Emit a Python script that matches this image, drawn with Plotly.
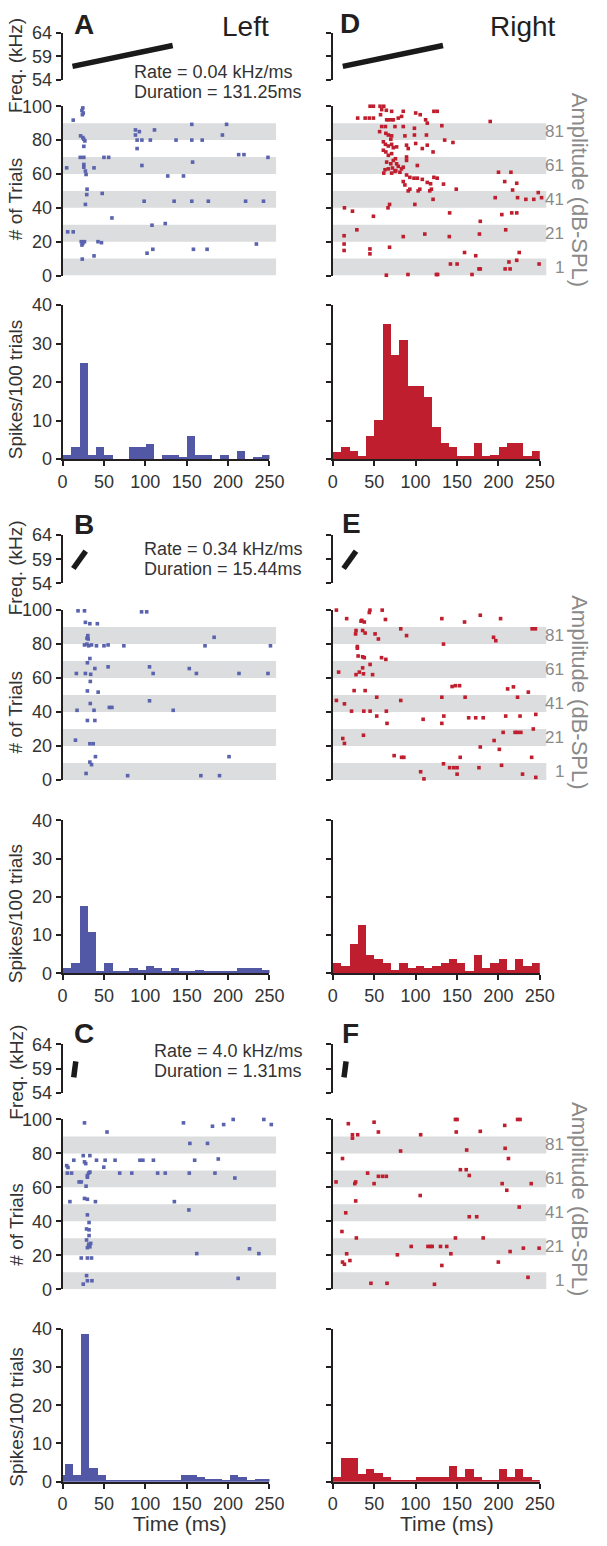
import plotly.graph_objects as go

W, H = 607, 1546

# ---------------- data ----------------
TIME_TICKS = [0, 50, 100, 150, 200, 250]
FREQ_TICKS = [54, 59, 64]
TRIAL_TICKS = [0, 20, 40, 60, 80, 100]
SPIKE_TICKS = [0, 10, 20, 30, 40]
BAND_STARTS = [0, 20, 40, 60, 80]
BAND_HEIGHT = 10
AMP_LABELS = ["1", "21", "41", "61", "81"]
AMP_TRIALS = [5, 25, 45, 65, 85]
RASTER_TMAX = 258
BIN_WIDTH = 10

CHIRP = {
    "slow": ([12, 133], [56.9, 61.3]),
    "mid": ([13, 28], [57.1, 60.7]),
    "fast": ([13.5, 16.0], [57.2, 60.5]),
}
RATE_TEXT = {
    "A": ("Rate = 0.04 kHz/ms", "Duration = 131.25ms"),
    "B": ("Rate = 0.34 kHz/ms", "Duration = 15.44ms"),
    "C": ("Rate = 4.0 kHz/ms", "Duration = 1.31ms"),
}

# spike raster (time ms, trial #)
A_SPIKES = [(12.9, 91.8), (24.5, 99), (23.4, 97.5), (25, 96), (24, 95), (21.8, 82.5), (24.5, 81.5),
            (25.7, 80.5), (27, 79.5), (25.7, 76.3), (21.4, 69.8), (25.7, 69.8), (5, 63.6), (25.7, 65.6),
            (25.7, 64), (27.6, 61.7), (28.4, 59.7), (38, 63.6), (50, 69.8), (55.7, 69.8), (88, 86),
            (92.7, 85), (88, 83), (90, 80), (95.8, 80), (90, 75), (95.8, 65), (106, 80), (111, 86),
            (127, 58.8), (137, 80), (146, 58.8), (156, 89.3), (156, 80), (157, 67), (168.6, 80), (193, 83),
            (198, 89.3), (212.6, 71.4), (219, 71.4), (248, 69.8), (29.6, 51), (29.2, 47.8), (47.9, 48.5),
            (27.6, 42), (98.5, 43.9), (134.7, 43.9), (156, 43.9), (176, 43.9), (221, 43.9), (242.6, 43.9),
            (59.6, 34), (6.2, 25.8), (12.9, 25.8), (108, 29.7), (124, 30.7), (22.6, 20), (24.5, 19),
            (26.5, 20), (23.4, 18), (42.8, 20), (47, 19.4), (109, 15.5), (102, 13.2), (158, 15.5),
            (174.5, 15.5), (234, 18.6), (23.8, 9.7), (38, 11.6)]
B_SPIKES = [(18.7, 99.6), (26.5, 99.6), (95.4, 99), (101.6, 99), (27.6, 92.8), (33, 92), (42, 92),
            (30.5, 85), (31, 83), (29.5, 83.5), (26.5, 79.5), (29.5, 80), (31.5, 79), (35, 79.5), (41, 79),
            (50, 79), (55, 79.5), (74, 79), (172, 79), (183, 84), (251, 79), (33, 71.5), (30, 69),
            (39, 65.6), (55, 66.6), (16.7, 62.7), (27.6, 62.7), (34, 62.2), (105, 66.6), (109.4, 62.7),
            (153, 65.6), (161.6, 62.7), (213, 62.7), (248, 62.7), (33.5, 58), (30, 52.4), (43, 51.7),
            (33.5, 45), (105, 46.6), (17.5, 41), (38, 41), (56.5, 42.7), (59.6, 42.7), (133.6, 41),
            (30, 35), (39, 35), (15.6, 23.4), (33, 21.3), (37, 21.3), (39.7, 13.7), (33, 10.5), (35, 9),
            (28.4, 3.8), (78.6, 2.5), (167, 2.5), (189.5, 2.5), (201, 13.7)]
C_SPIKES = [(26.5, 98), (53.7, 92.6), (146, 98), (181, 96), (194.5, 97), (206, 100), (243, 100), (252, 97),
            (153.7, 85.9), (175, 85.9), (25, 78.7), (33, 78.7), (13.6, 76), (26.5, 75), (28, 74), (41, 76),
            (51.4, 76), (63.4, 76), (93.4, 76), (97, 76), (109.7, 76), (159.5, 76), (188, 76.7), (5, 72.8),
            (6.6, 71.7), (49.8, 71.9), (5.8, 68.4), (10.9, 68.4), (30, 66), (31.5, 68.4), (30, 67), (33, 69),
            (69, 68.4), (83.6, 68.4), (114.8, 68.4), (124, 68.4), (153, 68.4), (184, 68.4), (208, 65.5),
            (20, 63.2), (22.6, 63.2), (28.4, 60.7), (26.5, 53.5), (30, 53), (8.9, 51.6), (39.7, 51.6),
            (135, 51.6), (152.5, 46.7), (30, 43.8), (32, 39.3), (29, 35.5), (32, 35), (32, 31.6), (29, 29),
            (34, 27), (31.5, 26.5), (30, 24.5), (33, 25), (162, 21), (225.7, 23.8), (237, 21), (22.6, 18.4),
            (30, 18.4), (35, 18.4), (25, 3), (30, 5), (35.5, 5), (29, 8), (212, 6.4)]
D_SPIKES = [(45, 100), (49, 100), (57, 100), (61.5, 100), (59, 98), (64.6, 97.6), (71, 97), (85, 97),
            (100, 96), (122, 97), (126, 97), (30, 93), (39, 93), (44, 93), (49, 93), (57.6, 95), (65, 92),
            (67, 92), (71, 92), (73, 92), (79, 93), (83, 94), (105.5, 95), (112, 92), (190, 91), (59, 88),
            (63.5, 88), (75, 88), (85, 88), (98.5, 87), (114, 90), (131.6, 88.5), (56.5, 85), (64, 84),
            (67, 83), (71, 82.5), (70, 80.5), (87, 82.5), (98.5, 83), (113, 83), (135, 80), (145, 78.6),
            (61, 79), (63.5, 77.5), (67, 76.5), (71, 77.5), (73, 75.5), (77, 76), (89, 77), (91, 75),
            (100, 78), (108, 75), (114, 77), (121, 73), (61, 74), (64, 73), (67, 71), (71, 72), (89, 70),
            (75.6, 69), (65, 67), (70, 66), (73, 68), (77, 66), (79, 64.5), (85, 64), (89, 68), (67, 63),
            (72, 63.5), (63, 62.5), (76, 62), (81, 61), (83, 63), (71, 60.5), (75, 61.5), (61.5, 60.5),
            (102, 65), (89, 59.4), (93, 58), (98, 57.5), (102, 57.5), (108, 56.8), (114, 55), (118, 54.2),
            (122, 58), (126, 57.5), (133.6, 54), (85, 55.5), (87, 53.5), (200, 61), (215, 61), (207.5, 55.5),
            (222, 54.5), (91, 50), (93, 51), (103, 50), (105, 51), (117, 50), (119, 51), (149, 51), (121, 45),
            (196, 46), (217, 50.5), (223, 46), (233, 45), (242.6, 45), (248, 49), (252, 46), (14, 40),
            (23.7, 38), (49, 35), (66.6, 40), (68.5, 42), (99, 42), (141, 37), (204, 36), (216, 37),
            (222, 37), (178, 32), (29, 27), (13.6, 23.5), (85, 23), (111, 24.5), (140.6, 23), (177, 24.5),
            (208.7, 27), (13.6, 18.6), (13.6, 14.8), (44.8, 15.7), (44.8, 12.8), (68.5, 16.7), (159, 13.6),
            (172.5, 11.7), (225, 13.6), (212.6, 8), (222, 9), (142, 6.8), (150, 6.8), (176.4, 3.9),
            (178, 3.9), (208, 3.9), (214, 3.9), (249, 6.8), (64.6, 0.2), (90.7, 0.6), (125, 0.6),
            (126.5, 0.6), (168, 0.6)]
E_SPIKES = [(4.3, 100), (44.8, 100), (44, 98.6), (59.6, 100), (16.7, 95), (35, 94), (38, 93), (34, 93.5),
            (63.5, 94.5), (131.6, 95), (159, 93), (178, 97), (202.5, 95), (28, 88), (27.5, 86), (36, 88),
            (39, 86.5), (51, 86), (55, 83), (82, 89), (89, 85), (133.6, 80), (194, 84), (196.7, 82),
            (240.6, 89), (244.5, 89), (29.6, 78.6), (29.6, 77.6), (30.5, 73), (36, 72.5), (38, 72),
            (58.8, 72), (64, 71), (7, 63.5), (28, 62), (32, 63.5), (37, 62.5), (45, 68), (36, 66), (48, 62),
            (25.7, 52.6), (39, 52.6), (4.3, 46.8), (14, 44.8), (53, 48.7), (82, 46.8), (131.6, 48.7),
            (159.7, 48.7), (144, 55), (148, 55.5), (153, 55.5), (211, 53.6), (218, 54.8), (223, 48.7),
            (236, 51.7), (22.6, 40.5), (37.4, 40.5), (45, 40.5), (64.6, 40.5), (53, 37.6), (109, 35.7),
            (134, 37.6), (164, 36.6), (172.5, 36.6), (181.5, 36.6), (208.7, 37.6), (226, 37.6), (245, 38.6),
            (65.4, 33.3), (131.6, 33.3), (12, 24.4), (14, 21.5), (37, 26.3), (205.6, 28), (220, 28),
            (223, 28), (227, 28), (242, 30), (194.7, 23.2), (201, 18), (178, 19.4), (74, 14.3), (83, 13.3),
            (85.7, 13.3), (153.8, 13.3), (240, 13.3), (133.6, 9.5), (141, 7.2), (146, 7.2), (150, 7.2),
            (176.4, 7.2), (203.7, 8.6), (106, 4.8), (110, 0.6), (150, 3.4), (229, 3.4), (245, 1.5)]
F_SPIKES = [(18.7, 97.5), (49.8, 98.4), (148, 100), (150, 100), (223, 100), (226, 100), (23.7, 91),
            (23.7, 89), (30, 91), (55, 92.6), (106, 91), (149, 92.6), (178, 93), (207.5, 96.5), (81.8, 81.4),
            (161.6, 82), (208, 83), (11.7, 77), (212, 77), (42, 68.4), (55, 66.5), (60, 66.5), (64.6, 66.5),
            (154, 70.4), (161, 70.4), (164.7, 67), (3.9, 63.2), (26.5, 62.2), (27.6, 63.2), (49.8, 62.2),
            (204.4, 62.2), (210, 58.3), (239.5, 62.2), (27.6, 52), (105.5, 55.2), (15.6, 45), (164.7, 42.7),
            (173.7, 42.7), (225, 48.4), (11, 34), (28.4, 30.2), (148, 30.2), (181.5, 30.2), (94.6, 25.2),
            (114.8, 25.2), (118, 25.2), (120, 25.2), (130, 25.2), (137.5, 25.2), (142.5, 20.9), (77.9, 20.3),
            (16.7, 20.9), (11.7, 16), (14, 14.7), (20.6, 16.9), (214, 22.2), (230, 24.2), (249, 24.2),
            (131.6, 14), (199.8, 16), (46, 3.5), (65.4, 3.5), (122.7, 2.9), (235.6, 7)]

# PSTH (spikes / 100 trials), 10 ms bins
A_HIST = [1, 3, 25, 1, 3, 1, 0, 0, 3, 3, 4, 0, 1, 1, 0.3, 6, 1, 1, 0, 1, 0, 2, 0, 0.3, 1]
B_HIST = [1.4, 2.7, 17.6, 10.7, 0.3, 2.7, 0.3, 0.3, 1.4, 0.7, 1.7, 1.4, 0.3, 1.4, 0.4, 0.4, 0.7, 0.3,
          0.3, 0.3, 0.3, 1.4, 1.4, 1.4, 0.7]
C_HIST_EDGES = [0, 2, 12, 22, 32, 42, 52, 62, 72, 82, 92, 102, 112, 122, 132, 142, 152, 162, 172, 182,
                192, 202, 212, 222, 232, 242, 250]
C_HIST = [1.8, 4.7, 1.8, 38.6, 3.7, 1.8, 0.4, 0.4, 0.4, 0.4, 0.4, 0.4, 0.4, 0.4, 0.4, 1.8, 1.8, 1.4,
          0.7, 0.7, 0.4, 1.8, 1.4, 0.4, 0.7, 0.7]
D_HIST = [1.7, 3.1, 2, 0.7, 6.1, 10, 35, 27, 31, 19, 19, 16, 8.2, 4.1, 3, 0.7, 0.7, 4.1, 0.7, 1, 3,
          4.1, 4.1, 0.7, 2]
E_HIST = [2.7, 1.7, 7.7, 12.5, 4.7, 3.7, 2.7, 0.7, 2.7, 1.4, 1.7, 1.4, 1.7, 2.7, 3.7, 2.7, 0.4, 4.7,
          1.4, 2.7, 3.7, 0.7, 3.7, 1.7, 2.7]
F_HIST = [1.2, 6.4, 6.4, 2.1, 3.3, 2.3, 1.3, 0.6, 0.6, 0.6, 1.3, 1.3, 1.3, 1.3, 4.3, 1.3, 3.3, 1.3,
          0.6, 0.6, 3.3, 1.3, 3.3, 1.3, 0.6]
REG_EDGES = [i * BIN_WIDTH for i in range(26)]

PANELS = {
    "A": dict(row=0, col="L", spikes=A_SPIKES, hist=A_HIST, edges=REG_EDGES, chirp="slow"),
    "B": dict(row=1, col="L", spikes=B_SPIKES, hist=B_HIST, edges=REG_EDGES, chirp="mid"),
    "C": dict(row=2, col="L", spikes=C_SPIKES, hist=C_HIST, edges=C_HIST_EDGES, chirp="fast"),
    "D": dict(row=0, col="R", spikes=D_SPIKES, hist=D_HIST, edges=REG_EDGES, chirp="slow"),
    "E": dict(row=1, col="R", spikes=E_SPIKES, hist=E_HIST, edges=REG_EDGES, chirp="mid"),
    "F": dict(row=2, col="R", spikes=F_SPIKES, hist=F_HIST, edges=REG_EDGES, chirp="fast"),
}

# ---------------- geometry & style ----------------
FONT = "Liberation Sans, Arial, Helvetica, sans-serif"
AXC = "#231f20"
TXT = "#333333"
GRAY = "#8a8a8a"
BAND = "#dcddde"
COLORS = {"L": ("#5a63ad", "#5258a6"), "R": ("#bf1e2e", "#be1e2d")}

COLS = {"L": (59.5, 273.5, 280.5), "R": (339.0, 553.0, 560.0)}  # x of 0ms, 250ms, raster end
ROWS = [
    dict(f64=23, f54=71, r100=97.5, r0=269, h40=299, h0=455),
    dict(f64=532, f54=581, r100=608, r0=780, h40=821, h0=976),
    dict(f64=1048, f54=1097, r100=1124, r0=1296, h40=1336, h0=1491),
]
AMP_LABEL_RIGHT = 580


def px_x(p):
    return p / W


def px_y(p):
    return 1 - p / H


fig = go.Figure()
axes = {}
shapes = []
annotations = []
counter = [0]


def ystyle(tickvals, labels):
    return dict(showline=True, linecolor=AXC, linewidth=1.6, ticks="outside", ticklen=5, tickwidth=1.6,
                tickcolor=AXC, tickvals=tickvals, showticklabels=labels,
                tickfont=dict(family=FONT, size=18, color=TXT), showgrid=False, zeroline=False,
                fixedrange=True)


HIDDEN = dict(visible=False, showgrid=False, zeroline=False, fixedrange=True)


def new_axes(xdom, ydom, xr, yr, xopts, yopts):
    counter[0] += 1
    k = counter[0]
    xn = "x" if k == 1 else f"x{k}"
    yn = "y" if k == 1 else f"y{k}"
    axes["xaxis" if k == 1 else f"xaxis{k}"] = dict(domain=xdom, range=xr, anchor=yn, **xopts)
    axes["yaxis" if k == 1 else f"yaxis{k}"] = dict(domain=ydom, range=yr, anchor=xn, **yopts)
    return xn, yn


for name, p in PANELS.items():
    r = ROWS[p["row"]]
    x0, x250, xend = COLS[p["col"]]
    labels = p["col"] == "L"
    dot_color, bar_color = COLORS[p["col"]]
    rdom = [px_x(x0), px_x(xend)]

    # frequency sweep
    xn, yn = new_axes(rdom, [px_y(r["f54"]), px_y(r["f64"])], [0, RASTER_TMAX], [54, 64],
                      HIDDEN, ystyle(FREQ_TICKS, labels))
    ct, cf = CHIRP[p["chirp"]]
    fig.add_trace(go.Scatter(x=ct, y=cf, xaxis=xn, yaxis=yn, mode="lines",
                             line=dict(color="#1a1a1a", width=5.5), cliponaxis=False,
                             showlegend=False, hoverinfo="skip"))

    # raster
    xn, yn = new_axes(rdom, [px_y(r["r0"]), px_y(r["r100"])], [0, RASTER_TMAX], [0, 100],
                      HIDDEN, ystyle(TRIAL_TICKS, labels))
    for b in BAND_STARTS:
        shapes.append(dict(type="rect", xref=xn, yref=yn, x0=0, x1=RASTER_TMAX, y0=b, y1=b + BAND_HEIGHT,
                           fillcolor=BAND, line=dict(width=0), layer="below"))
    fig.add_trace(go.Scatter(x=[s[0] for s in p["spikes"]], y=[s[1] for s in p["spikes"]],
                             xaxis=xn, yaxis=yn, mode="markers", cliponaxis=False,
                             marker=dict(symbol="square", size=3.6, color=dot_color, line=dict(width=0)),
                             showlegend=False, hoverinfo="skip"))
    if not labels:
        for lab, tr in zip(AMP_LABELS, AMP_TRIALS):
            annotations.append(dict(text=lab, xref="paper", yref=yn, x=px_x(AMP_LABEL_RIGHT), y=tr,
                                    xanchor="right", yanchor="middle", showarrow=False,
                                    font=dict(family=FONT, size=17, color=GRAY)))

    # histogram
    edges = p["edges"]
    widths = [edges[i + 1] - edges[i] for i in range(len(p["hist"]))]
    xn, yn = new_axes([px_x(x0), px_x(x250)], [px_y(r["h0"]), px_y(r["h40"])], [0, 250], [0, 40],
                      dict(showline=True, linecolor=AXC, linewidth=1.6, ticks="outside", ticklen=5,
                           tickwidth=1.6, tickcolor=AXC, tickvals=TIME_TICKS,
                           tickfont=dict(family=FONT, size=18, color=TXT), showgrid=False,
                           zeroline=False, fixedrange=True),
                      ystyle(SPIKE_TICKS, labels))
    fig.add_trace(go.Bar(x=edges[:len(p["hist"])], y=p["hist"], width=widths, offset=0,
                         xaxis=xn, yaxis=yn, marker=dict(color=bar_color, line=dict(width=0)),
                         showlegend=False, hoverinfo="skip"))


def ann(text, x, y, size, color=AXC, bold=False, angle=0, xanchor="center"):
    annotations.append(dict(text=f"<b>{text}</b>" if bold else text, xref="paper", yref="paper",
                            x=px_x(x), y=px_y(y), xanchor=xanchor, yanchor="middle", showarrow=False,
                            textangle=angle, font=dict(family=FONT, size=size, color=color)))


# panel letters and headers
for letter, (x, y) in {"A": (82, 15), "B": (82, 521), "C": (81.5, 1037),
                       "D": (357, 14), "E": (358, 520), "F": (357, 1037)}.items():
    ann(letter, x, y, 28, bold=True)
ann("Left", 248.5, 16.5, 28)
ann("Right", 535.5, 16.5, 28)

# rate / duration
for key, (x, y1, y2) in {"A": (131, 63, 83), "B": (141.7, 546, 566), "C": (151.7, 1055, 1075)}.items():
    ann(RATE_TEXT[key][0], x, y1, 18, color=TXT, xanchor="left")
    ann(RATE_TEXT[key][1], x, y2, 18, color=TXT, xanchor="left")

# axis titles
for yf, yt, ys in [(56, 192, 384.5), (565, 712, 915.5), (1076, 1231, 1425.5)]:
    ann("Freq. (kHz)", 11, yf, 19, color=TXT, angle=-90)
    ann("# of Trials", 11, yt, 19, color=TXT, angle=-90)
    ann("Spikes/100 trials", 11, ys, 19, color=TXT, angle=-90)
for ya in [182.5, 691.5, 1205]:
    ann("Amplitude (dB-SPL)", 594, ya, 22, color=GRAY, angle=90)
ann("Time (ms)", 181, 1533, 21, color=TXT)
ann("Time (ms)", 457.5, 1533, 21, color=TXT)

fig.update_layout(width=W, height=H, margin=dict(l=0, r=0, t=0, b=0), paper_bgcolor="white",
                  plot_bgcolor="rgba(0,0,0,0)", showlegend=False, shapes=shapes, annotations=annotations,
                  bargap=0, font=dict(family=FONT), **axes)
fig.write_html(
    "out.html", config={"displayModeBar": False},
    post_script=("document.documentElement.style.margin='0';document.documentElement.style.overflow='hidden';"
                 "document.body.style.margin='0';document.body.style.padding='0';"
                 "document.body.style.overflow='hidden';"))
